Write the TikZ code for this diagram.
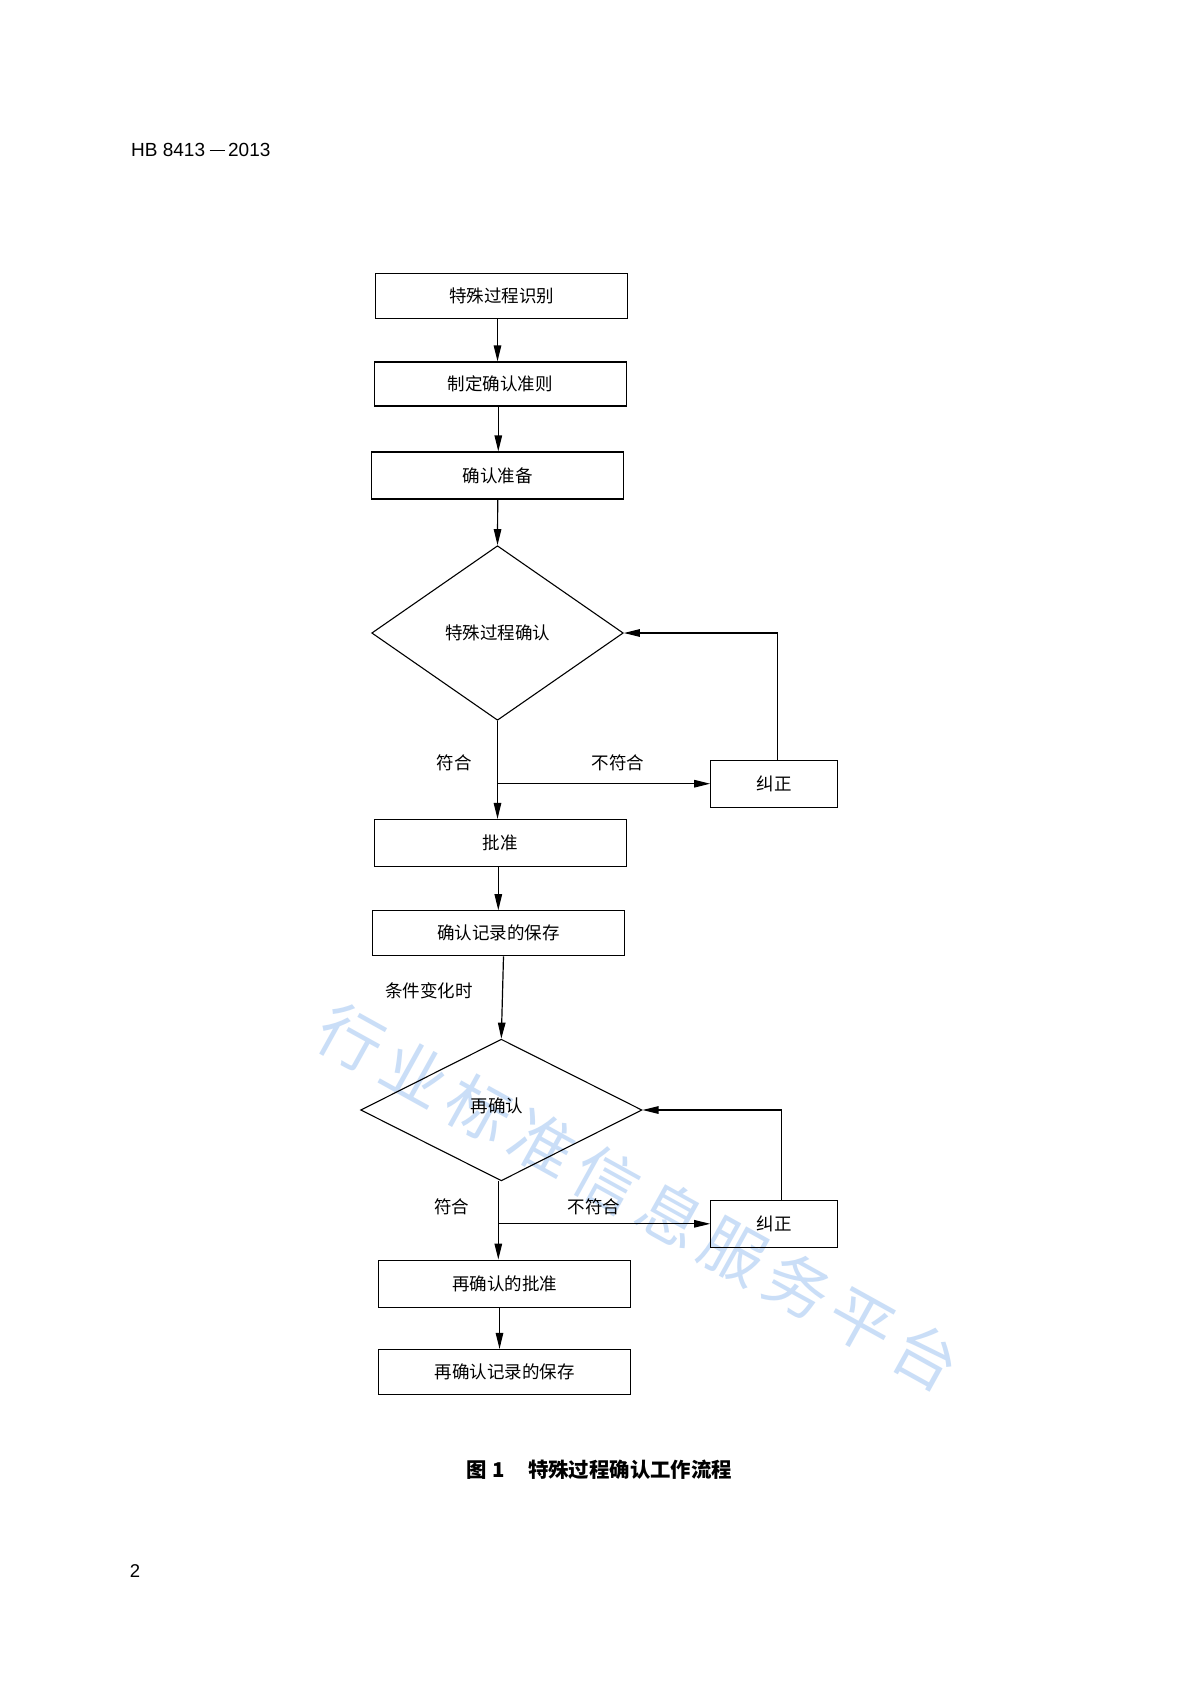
\documentclass[tikz,border=0pt]{standalone}
\usepackage{fontspec}
\setmainfont{Liberation Sans}
\newfontfamily\cjk{Noto Sans CJK SC}
\usetikzlibrary{arrows.meta,shapes.geometric,calc}
\definecolor{wmblue}{RGB}{185,212,245}
\begin{document}
\begin{tikzpicture}[x=1pt,y=-1pt,
  every node/.style={inner sep=0pt},
  box/.style={draw,line width=1.2pt,minimum width=252pt,minimum height=45pt,font=\cjk\fontsize{17.5}{20}\selectfont},
  fixbox/.style={draw,line width=1.2pt,minimum width=127pt,minimum height=47pt,font=\cjk\fontsize{17.5}{20}\selectfont},
  dec/.style={draw,diamond,line width=1.1pt,font=\cjk\fontsize{17.5}{20}\selectfont},
  lbl/.style={font=\cjk\fontsize{17.5}{20}\selectfont},
  arr/.style={-{Triangle[length=16pt,width=7.5pt]},line width=1.2pt}]
\useasboundingbox (0,0) rectangle (1190,1684);
\fill[white] (0,0) rectangle (1190,1684);

% watermark
\node[rotate=-29,text=wmblue,opacity=0.75,font=\cjk\fontsize{64}{70}\selectfont] (wm) at (639,1197)
  {行\hspace{9pt}业\hspace{9pt}标\hspace{9pt}准\hspace{9pt}信\hspace{9pt}息\hspace{9pt}服\hspace{9pt}务\hspace{9pt}平\hspace{9pt}台};

% header and page number
\node[anchor=base west,font=\fontsize{19}{21}\selectfont] (hdr) at (131,156.7)
  {HB 8413\hspace{4.5pt}\rule[5.5pt]{15pt}{1.4pt}\hspace{3.5pt}2013};
\node[font=\fontsize{18.5}{20}\selectfont] (pg) at (135,1571) {2};

% nodes
\node[box] (b1) at (501.5,296) {特殊过程识别};
\node[box,minimum height=44pt] (b2) at (500.3,384) {制定确认准则};
\node[box,minimum height=47pt] (b3) at (497.7,475.5) {确认准备};
\node[dec,minimum width=251.6pt,minimum height=174.6pt] (d1) at (497.5,633) {特殊过程确认};
\node[fixbox] (j1) at (774.3,783.7) {纠正};
\node[box,minimum height=47pt] (b4) at (500.3,843) {批准};
\node[box] (b5) at (498.5,933.3) {确认记录的保存};
\node[dec,minimum width=281.3pt,minimum height=141.7pt] (d2) at (501.3,1110) {};
\node[lbl] (d2t) at (497,1106) {再确认};
\node[fixbox] (j2) at (774.3,1223.8) {纠正};
\node[box,minimum height=47pt] (b6) at (504.5,1283.7) {再确认的批准};
\node[box] (b7) at (504.5,1372) {再确认记录的保存};

% labels
\node[lbl] (l1) at (454,763) {符合};
\node[lbl] (l2) at (618,763) {不符合};
\node[lbl] (l3) at (429,991) {条件变化时};
\node[lbl] (l4) at (451.7,1207) {符合};
\node[lbl] (l5) at (594,1207) {不符合};

% caption
\node[anchor=west,font=\cjk\bfseries\fontsize{20.4}{24}\selectfont] (cap) at (466,1470) {图\hspace{6pt}1\hspace{23pt}特殊过程确认工作流程};

% connectors
\draw[arr] ([xshift=-4pt]b1.south) -- ([xshift=-4pt]b1.south |- b2.north);
\draw[arr] ([xshift=-2pt]b2.south) -- ([xshift=-2pt]b2.south |- b3.north);
\draw[arr] (b3.south) -- (d1.north);
\draw[arr] (d1.south) -- (d1.south |- b4.north);
\coordinate (c1) at (d1.south |- j1.west);
\draw[arr] (c1) -- (j1.west);
\draw[arr] ([xshift=3pt]j1.north) |- (d1.east);
\draw[arr] ([xshift=-2pt]b4.south) -- ([xshift=-2pt]b4.south |- b5.north);
\draw[arr] ([xshift=5pt]b5.south) -- (d2.north);
\draw[arr] ([xshift=-3pt]d2.south) -- ([xshift=-3pt]d2.south |- b6.north);
\coordinate (c2) at ([xshift=-3pt]d2.south |- j2.west);
\draw[arr] (c2) -- (j2.west);
\draw[arr] ([xshift=7pt]j2.north) |- (d2.east);
\draw[arr] ([xshift=-5pt]b6.south) -- ([xshift=-5pt]b6.south |- b7.north);
\end{tikzpicture}
\end{document}
